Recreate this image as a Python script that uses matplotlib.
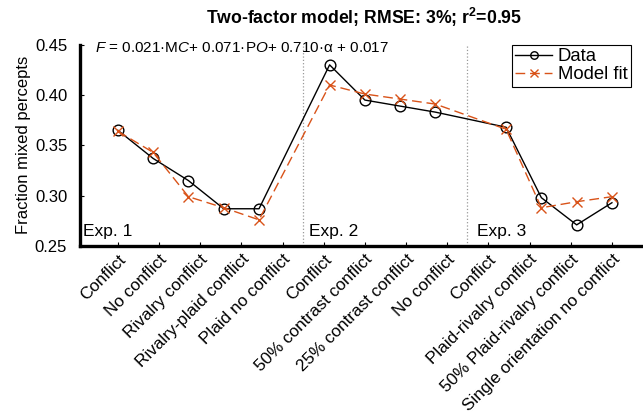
import numpy as np
import matplotlib
matplotlib.use('Agg')
from matplotlib import pyplot as plt

plt.rcParams['font.family'] = ['Liberation Sans', 'DejaVu Sans']
plt.rcParams['mathtext.fontset'] = 'custom'
plt.rcParams['mathtext.rm'] = 'Liberation Sans'
plt.rcParams['mathtext.it'] = 'Liberation Sans:italic'
plt.rcParams['mathtext.bf'] = 'Liberation Sans:bold'

# Condition positions (gaps between experiments)
xpos = [1, 2, 3, 4, 5, 7, 8, 9, 10, 12, 13, 14, 15]
data = [0.365, 0.337, 0.315, 0.287, 0.287,
        0.430, 0.395, 0.389, 0.383,
        0.368, 0.298, 0.271, 0.293]
model = [0.364, 0.343, 0.299, 0.288, 0.276,
         0.410, 0.401, 0.396, 0.391,
         0.366, 0.288, 0.294, 0.299]
labels = ['Conflict', 'No conflict', 'Rivalry conflict', 'Rivalry-plaid conflict',
          'Plaid no conflict', 'Conflict', '50% contrast conflict',
          '25% contrast conflict', 'No conflict', 'Conflict',
          'Plaid-rivalry conflict', '50% Plaid-rivalry conflict',
          'Single orientation no conflict']
separators = [6.25, 10.9]
exp_names = ['Exp. 1', 'Exp. 2', 'Exp. 3']
exp_x = [0.02, 6.41, 11.17]

fit_color = '#D95319'

fig = plt.figure(figsize=(6.43, 4.18), dpi=100)
ax = fig.add_axes([0.124, 0.4115, 0.876, 0.4815])

for s in separators:
    ax.axvline(s, color='#999999', linestyle=':', linewidth=0.9)

ax.plot(xpos, data, '-o', color='black', linewidth=1.0, markersize=7.7,
        markerfacecolor='none', markeredgewidth=1.0, label='Data')
ax.plot(xpos, model, '--x', color=fit_color, linewidth=1.0, markersize=7.7,
        markeredgewidth=1.0, dashes=(7, 3.5), label='Model fit')

ax.set_xlim(-0.08, 15.88)
ax.set_ylim(0.25, 0.45)
ax.set_yticks([0.25, 0.30, 0.35, 0.40, 0.45])
ax.set_yticklabels(['0.25', '0.30', '0.35', '0.40', '0.45'], fontsize=12)
# ticks are spread evenly over the data range
ax.set_xticks(np.linspace(1, 15, len(labels)))
ax.set_xticklabels(labels, rotation=45, ha='right', rotation_mode='anchor',
                   fontsize=12.3)
ax.tick_params(direction='in', length=3, width=0.8)
ax.tick_params(axis='y', pad=9)
ax.tick_params(axis='x', pad=4)

ax.spines['top'].set_visible(False)
ax.spines['right'].set_visible(False)
ax.spines['left'].set_linewidth(2.4)
ax.spines['bottom'].set_linewidth(2.4)

ax.set_ylabel('Fraction mixed percepts', fontsize=12, labelpad=3)

for name, x in zip(exp_names, exp_x):
    ax.text(x, 0.2596, name, fontsize=12.5, ha='left', va='baseline')

ax.text(0.35, 0.4468,
        '$F$ = 0.021·M$C$+ 0.071·P$O$+ 0.710·α + 0.017',
        fontsize=11, ha='left', va='center')

leg = ax.legend(loc='upper left', bbox_to_anchor=(0.767, 1.0), borderaxespad=0,
                fontsize=13.3, fancybox=False, edgecolor='black', framealpha=1,
                handlelength=2.0, handletextpad=0.3, borderpad=0.2,
                labelspacing=0.05, markerscale=0.7)
leg.get_frame().set_linewidth(0.8)

fig.text(0.566, 0.958, r'Two-factor model; RMSE: 3%; r$^\mathbf{2}$=0.95',
         fontsize=12.7, fontweight='bold', ha='center', va='center')

plt.savefig('out.png', dpi=100)
